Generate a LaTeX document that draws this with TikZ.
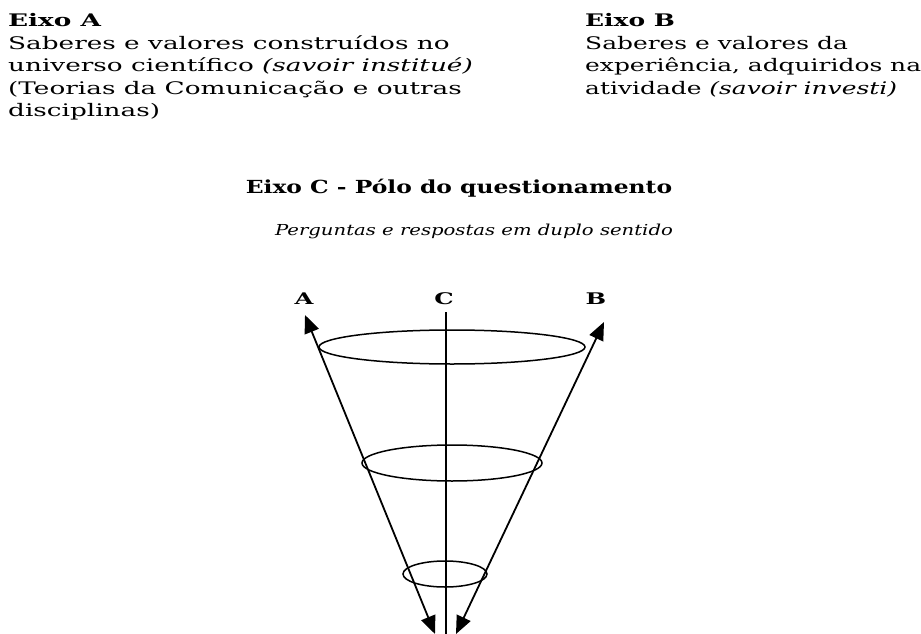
\documentclass[tikz,border=0pt]{standalone}
\usepackage{fontspec}
\setmainfont{DejaVu Serif}[FakeStretch=1.52]
\newfontfamily\titlefont{DejaVu Serif}[FakeStretch=1.3]
\newfontfamily\bfont{DejaVu Serif}[FakeStretch=1.44]
\usetikzlibrary{arrows.meta}
\begin{document}
\begin{tikzpicture}[x=1pt,y=-1pt,
  txt/.style={anchor=north west,inner sep=0pt,align=left,font=\fontsize{17.3}{22.5}\selectfont},
  ctxt/.style={anchor=base,inner sep=0pt},
  lab/.style={inner sep=0pt,font=\bfseries\fontsize{16}{18}\selectfont},
  ax/.style={line width=1.8pt,{Triangle[length=18pt,width=15pt]}-{Triangle[length=18pt,width=15pt]}},
  ring/.style={line width=1.5pt}]
\useasboundingbox (0,0) rectangle (921,634);
\node[txt] (ta) at (8,13.5) {\textbf{Eixo A}\\Saberes e valores construídos no\\universo científico \textit{(savoir institué)}\\(Teorias da Comunicação e outras\\disciplinas)};
\node[txt,font=\bfont\fontsize{17.3}{22.5}\selectfont] (tb) at (585,13.5) {\textbf{Eixo B}\\Saberes e valores da\\experiência, adquiridos na\\atividade \textit{(savoir investi)}};
\node[ctxt,font=\titlefont\bfseries\fontsize{18}{22}\selectfont] (tc) at (459,193) {Eixo C - Pólo do questionamento};
\node[ctxt,font=\titlefont\itshape\fontsize{15.1}{18}\selectfont] (ti) at (474,235) {Perguntas e respostas em duplo sentido};
\node[lab] (la) at (304,299) {A};
\node[lab] (lc) at (444,299) {C};
\node[lab] (lb) at (596,299) {B};
\coordinate (a1) at (305,315);
\coordinate (a2) at (435,634);
\coordinate (b1) at (604,322);
\coordinate (b2) at (456,634);
\coordinate (c1) at (446,312);
\coordinate (c2) at (446,634);
\draw[ring] (452,347) ellipse [x radius=133,y radius=17];
\draw[ring] (452,463) ellipse [x radius=90,y radius=18];
\draw[ring] (445,574) ellipse [x radius=42,y radius=13];
\draw[line width=1.5pt] (c1) -- (c2);
\draw[ax] (a2) -- (a1);
\draw[ax] (b2) -- (b1);
\end{tikzpicture}
\end{document}
